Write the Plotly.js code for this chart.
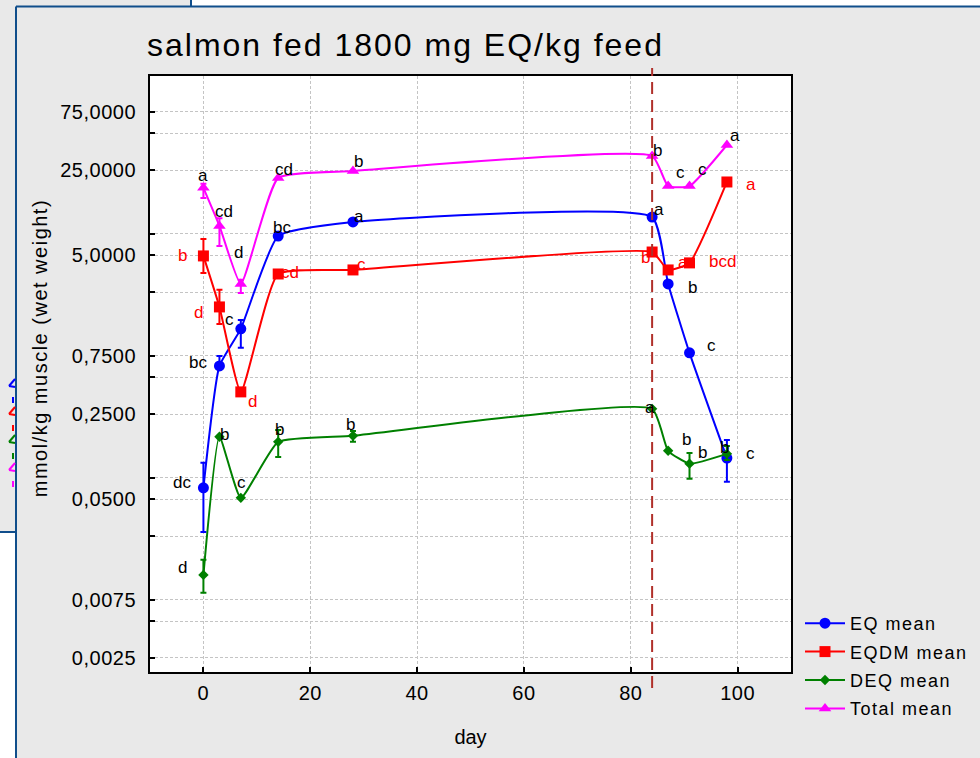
<!DOCTYPE html>
<html><head><meta charset="utf-8">
<script src="https://cdn.plot.ly/plotly-3.0.1.min.js"></script>
<style>
html,body{margin:0;padding:0;background:#e9e9e9;}
#chart{width:980px;height:758px;}
.xtick text,.ytick text{letter-spacing:0.5px;}
.gtitle{letter-spacing:2px;}
.legendtext{letter-spacing:1.5px;}
.ytitleann text{letter-spacing:1.5px;}
</style></head>
<body><div id="chart"></div>
<script>
// ---------------- data ----------------
const days = [0, 3, 7, 14, 28, 84, 87, 91, 98];

const eqMean   = [0.0621, 0.621, 1.25, 7.2, 9.4, 10.3, 2.92, 0.794, 0.109];
const eqHigh   = [0.0995, 0.75, 1.48, null, null, null, null, null, 0.153];
const eqLow    = [0.0270, null, 0.873, null, null, null, null, null, 0.0695];
const eqLetters = ['dc', 'bc', 'c', 'bc', 'a', 'a', 'b', 'c', 'c'];

const eqdmMean = [4.95, 1.89, 0.38, 3.52, 3.8, 5.33, 3.8, 4.34, 20.0];
const eqdmHigh = [6.82, 2.61, null, null, null, null, null, null, null];
const eqdmLow  = [3.59, 1.37, null, null, null, null, null, null, null];
const eqdmLetters = ['b', 'd', 'd', 'cd', 'c', 'b', 'a', 'bcd', 'a'];

const deqMean  = [0.0120, 0.163, 0.0514, 0.148, 0.166, 0.276, 0.125, 0.098, 0.118];
const deqHigh  = [0.0160, null, null, 0.185, 0.182, null, null, 0.120, 0.137];
const deqLow   = [0.00855, null, null, 0.111, 0.148, null, null, 0.0736, 0.105];
const deqLetters = ['d', 'b', 'c', 'b', 'b', 'a', 'b', 'b', 'b'];

const totalMean = [17.9, 8.73, 2.92, 21.6, 24.6, 32.7, 18.5, 18.5, 40.2];
const totalHigh = [19.3, 10.1, 3.15, null, null, null, null, null, null];
const totalLow  = [14.8, 5.98, 2.46, null, null, null, null, null, null];
const totalLetters = ['a', 'cd', 'd', 'cd', 'b', 'b', 'c', 'c', 'a'];

const yTickVals = [75, 50, 25, 7.5, 5, 2.5, 0.75, 0.5, 0.25, 0.075, 0.05, 0.025, 0.0075, 0.005, 0.0025];
const yTickText = ['75,0000', '', '25,0000', '', '5,0000', '', '0,7500', '', '0,2500', '', '0,0500', '', '0,0075', '', '0,0025'];
const switchDay = 84;

// ---------------- layout helpers ----------------
const FONT = 'Liberation Sans, Arial, sans-serif';
const px = x => (x - 150) / 641;
const py = y => (672 - y) / 596;

function errs(mean, hi, lo) {
  return {
    type: 'data', symmetric: false,
    array: mean.map((m, i) => hi[i] == null ? NaN : hi[i] - m),
    arrayminus: mean.map((m, i) => lo[i] == null ? NaN : m - lo[i]),
    thickness: 2, width: 3
  };
}
function trace(name, mean, hi, lo, color, symbol, size) {
  const e = errs(mean, hi, lo); e.color = color;
  return {
    type: 'scatter', mode: 'lines+markers', name: name, legendgroup: name,
    x: days, y: mean,
    line: {color: color, width: 2, shape: 'spline', smoothing: 0.45},
    marker: {color: color, symbol: symbol, size: size},
    error_y: e
  };
}
const traces = [
  trace('EQ mean', eqMean, eqHigh, eqLow, '#0000ff', 'circle', 11),
  trace('EQDM mean', eqdmMean, eqdmHigh, eqdmLow, '#ff0000', 'square', 11),
  trace('DEQ mean', deqMean, deqHigh, deqLow, '#008000', 'diamond', 8),
  trace('Total mean', totalMean, totalHigh, totalLow, '#ff00ff', 'triangle-up', 11)
];

// letter label offsets (pixels)
const eqOff    = [[-21,5],[-21,3],[-11,9],[4,9],[6,5],[7,8],[24,-4],[22,7],[24,5]];
const eqdmOff  = [[-21,0],[-21,-6],[12,-10],[12,1],[9,5],[-7,-5],[15,7],[33,1],[24,-3]];
const deqOff   = [[-21,7],[5,2],[1,15],[1,12],[-2,11],[-2,1],[18,11],[13,11],[-2,6]];
const totalOff = [[0,12],[5,14],[-2,31],[6,8],[6,10],[5,5],[12,14],[13,17],[8,10]];

const annotations = [];
function addLetters(letters, mean, off, color) {
  letters.forEach((t, i) => annotations.push({
    x: days[i], y: Math.log10(mean[i]), xref: 'x', yref: 'y', text: t, showarrow: false,
    xanchor: 'center', yanchor: 'middle', xshift: off[i][0], yshift: off[i][1],
    font: {family: FONT, size: 17, color: color}
  }));
}
addLetters(eqLetters, eqMean, eqOff, '#000000');
addLetters(eqdmLetters, eqdmMean, eqdmOff, '#ff0000');
addLetters(deqLetters, deqMean, deqOff, '#000000');
addLetters(totalLetters, totalMean, totalOff, '#000000');

annotations.push({
  text: 'mmol/kg muscle (wet weight)', xref: 'paper', yref: 'paper',
  x: px(40), y: py(348), textangle: -90, showarrow: false,
  xanchor: 'center', yanchor: 'middle', font: {family: FONT, size: 20, color: '#000'},
  captureevents: false
});

const FRAME = '#104e8b';
const shapes = [
  // window decorations
  {type: 'rect', xref: 'paper', yref: 'paper', x0: px(191), x1: px(990), y0: py(6.5), y1: py(-10), fillcolor: '#ffffff', line: {width: 0}, layer: 'below'},
  {type: 'rect', xref: 'paper', yref: 'paper', x0: px(-10), x1: px(16), y0: py(770), y1: py(532), fillcolor: '#ffffff', line: {width: 0}, layer: 'below'},
  {type: 'line', xref: 'paper', yref: 'paper', x0: px(16), x1: px(990), y0: py(6.5), y1: py(6.5), line: {color: FRAME, width: 2}},
  {type: 'line', xref: 'paper', yref: 'paper', x0: px(191), x1: px(191), y0: py(-5), y1: py(6.5), line: {color: FRAME, width: 2}},
  {type: 'line', xref: 'paper', yref: 'paper', x0: px(16), x1: px(16), y0: py(6.5), y1: py(770), line: {color: FRAME, width: 2}},
  {type: 'line', xref: 'paper', yref: 'paper', x0: px(-5), x1: px(16), y0: py(532), y1: py(532), line: {color: FRAME, width: 2}},
  // treatment switch
  {type: 'line', xref: 'x', yref: 'paper', x0: switchDay, x1: switchDay, y0: py(688), y1: py(68),
   line: {color: '#b0302a', width: 2, dash: '12px,6px'}}
];
// fragments of a background window legend
[['#0000ff', 379], ['#ff0000', 407], ['#008000', 435], ['#ff00ff', 463]].forEach(([c, y]) => {
  shapes.push({type: 'line', xref: 'paper', yref: 'paper', x0: px(15), x1: px(9), y0: py(y), y1: py(y + 7), line: {color: c, width: 2}});
  shapes.push({type: 'line', xref: 'paper', yref: 'paper', x0: px(9), x1: px(15), y0: py(y + 7), y1: py(y + 8), line: {color: c, width: 2}});
  shapes.push({type: 'line', xref: 'paper', yref: 'paper', x0: px(13), x1: px(13), y0: py(y + 18), y1: py(y + 24), line: {color: c, width: 2}});
});

const layout = {
  width: 980, height: 758,
  margin: {l: 150, r: 189, t: 76, b: 86, autoexpand: false},
  paper_bgcolor: '#e9e9e9', plot_bgcolor: '#ffffff',
  font: {family: FONT, color: '#000'},
  title: {text: 'salmon fed 1800 mg EQ/kg feed', font: {family: FONT, size: 32, color: '#000'},
          xref: 'container', x: 147 / 980, xanchor: 'left', yref: 'container', y: 1 - 45 / 758, yanchor: 'middle'},
  xaxis: {
    range: [-10, 110], tickvals: [0, 20, 40, 60, 80, 100], ticks: 'inside', ticklen: 5, tickwidth: 2, tickcolor: '#000',
    showline: true, linecolor: '#000', linewidth: 2, mirror: true, zeroline: false,
    showgrid: true, gridcolor: '#c4c4c4', griddash: '3px,2px', gridwidth: 1,
    tickfont: {family: FONT, size: 20}, ticklabelstandoff: 2,
    title: {text: 'day', font: {family: FONT, size: 20}, standoff: 27}
  },
  yaxis: {
    type: 'log', range: [-2.717, 2.170], tickvals: yTickVals, ticktext: yTickText,
    ticks: 'inside', ticklen: 5, tickwidth: 2, tickcolor: '#000',
    showline: true, linecolor: '#000', linewidth: 2, mirror: true, zeroline: false,
    showgrid: true, gridcolor: '#c4c4c4', griddash: '3px,2px', gridwidth: 1,
    tickfont: {family: FONT, size: 20}, ticklabelstandoff: 8
  },
  legend: {x: px(800), y: py(605), xanchor: 'left', yanchor: 'top', bgcolor: 'rgba(0,0,0,0)',
           font: {family: FONT, size: 18}, tracegroupgap: 2, itemwidth: 40},
  showlegend: true,
  annotations: annotations,
  shapes: shapes
};

Plotly.newPlot('chart', traces, layout, {displayModeBar: false, staticPlot: true}).then(() => {
  document.querySelectorAll('.annotation').forEach(a => {
    if (a.textContent === 'mmol/kg muscle (wet weight)') a.classList.add('ytitleann');
  });
});
</script>
</body></html>
